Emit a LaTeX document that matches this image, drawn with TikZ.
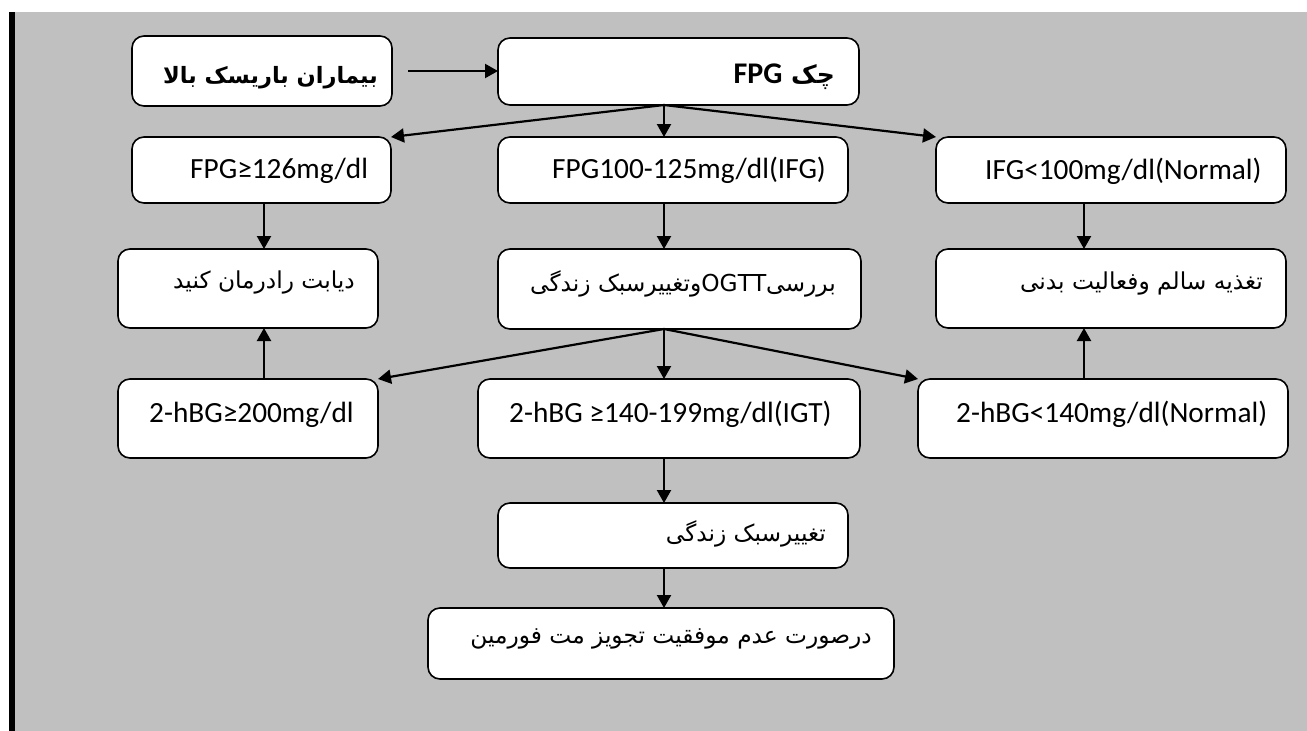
\documentclass[tikz,border=0pt]{standalone}
\usepackage{fontspec}
\setmainfont{Carlito}
\newfontfamily\fa[Script=Arabic]{DejaVu Sans}
\newfontfamily\lat{Carlito}
\TeXXeTstate=1
\usetikzlibrary{arrows.meta,calc}
\definecolor{bg}{HTML}{C0C0C0}
\newcommand\bx[5]{\node[box, minimum width={#4-#2}, minimum height={#5-#3}] (#1) at ({(#2+#4)/2},{(#3+#5)/2}) {};}
\begin{document}
\begin{tikzpicture}[x=1pt,y=-1pt,
  box/.style={draw, line width=1.6pt, rounded corners=12pt, fill=white, inner sep=0pt, outer sep=0pt},
  arr/.style={line width=2.2pt, -{Triangle[length=13pt,width=14pt]}},
  lat/.style={font=\lat\fontsize{29.3}{33}\selectfont, inner sep=0pt, anchor=base west},
  per/.style={font=\fa\fontsize{23.3}{27}\selectfont, inner sep=0pt},
  perb/.style={font=\fa\bfseries\fontsize{22.5}{27}\selectfont, inner sep=0pt}]
\useasboundingbox (0,0) rectangle (1307,731);
\fill[white] (0,0) rectangle (1307,731);
\fill[bg] (9,12) rectangle (1307,731);
\fill[black] (9,12) rectangle (15,731);
% columns
\coordinate (cL) at (264,0);
\coordinate (cM) at (664,0);
\coordinate (cR) at (1084,0);
% boxes
\bx{n1}{132}{36}{392}{106}
\bx{n2}{498}{38}{859}{105}
\bx{n3}{132}{137}{391}{203}
\bx{n4}{498}{137}{848}{203}
\bx{n5}{936}{137}{1286}{203}
\bx{n6}{118}{249}{378}{328}
\bx{n7}{498}{249}{861}{329}
\bx{n8}{936}{249}{1286}{328}
\bx{n9}{118}{379}{378}{458}
\bx{n10}{478}{379}{860}{458}
\bx{n11}{918}{379}{1288}{458}
\bx{n12}{498}{503}{848}{568}
\bx{n13}{428}{608}{894}{679}
% texts
\node[perb, anchor=east] (t1) at (378,78) {\beginR بیماران باریسک بالا\endR};
\node[perb, font=\fa\bfseries\fontsize{25}{29}\selectfont, anchor=east] (t2) at (835,77) {\beginR چک \beginL{\lat\fontsize{30}{34}\selectfont\bfseries FPG}\endL\endR};
\node[lat] (t3) at (190,178) {FPG≥126mg/dl};
\node[lat] (t4) at (552,178) {FPG100-125mg/dl(IFG)};
\node[lat] (t5) at (985,179) {IFG<100mg/dl(Normal)};
\node[per, anchor=east] (t6) at (355,282) {\beginR دیابت رادرمان کنید\endR};
\node[per, anchor=east] (t7) at (836,284) {\beginR بررسی\beginL OGTT\endL وتغییرسبک زندگی\endR};
\node[per, anchor=east] (t8) at (1263,283) {\beginR تغذیه سالم وفعالیت بدنی\endR};
\node[lat] (t9) at (149,422) {2-hBG≥200mg/dl};
\node[lat] (t10) at (509,422) {2-hBG ≥140-199mg/dl(IGT)};
\node[lat] (t11) at (956,422) {2-hBG<140mg/dl(Normal)};
\node[per, anchor=east] (t12) at (826,534) {\beginR تغییرسبک زندگی\endR};
\node[per, anchor=east] (t13) at (872,639) {\beginR درصورت عدم موفقیت تجویز مت فورمین\endR};
% connectors
\coordinate (a0) at ([xshift=16pt]n1.east);
\draw[arr] (a0) -- (n2.west |- a0);
\draw[arr] (n2.south -| cM) -- (n3.north east);
\draw[arr] (n2.south -| cM) -- (n4.north -| cM);
\draw[arr] (n2.south -| cM) -- (n5.north west);
\draw[arr] (n3.south -| cL) -- (n6.north -| cL);
\draw[arr] (n4.south -| cM) -- (n7.north -| cM);
\draw[arr] (n5.south -| cR) -- (n8.north -| cR);
\draw[arr] (n7.south -| cM) -- (n9.north east);
\draw[arr] (n7.south -| cM) -- (n10.north -| cM);
\draw[arr] (n7.south -| cM) -- (n11.north west);
\draw[arr] (n9.north -| cL) -- (n6.south -| cL);
\draw[arr] (n11.north -| cR) -- (n8.south -| cR);
\draw[arr] (n10.south -| cM) -- (n12.north -| cM);
\draw[arr] (n12.south -| cM) -- (n13.north -| cM);
\end{tikzpicture}
\end{document}
